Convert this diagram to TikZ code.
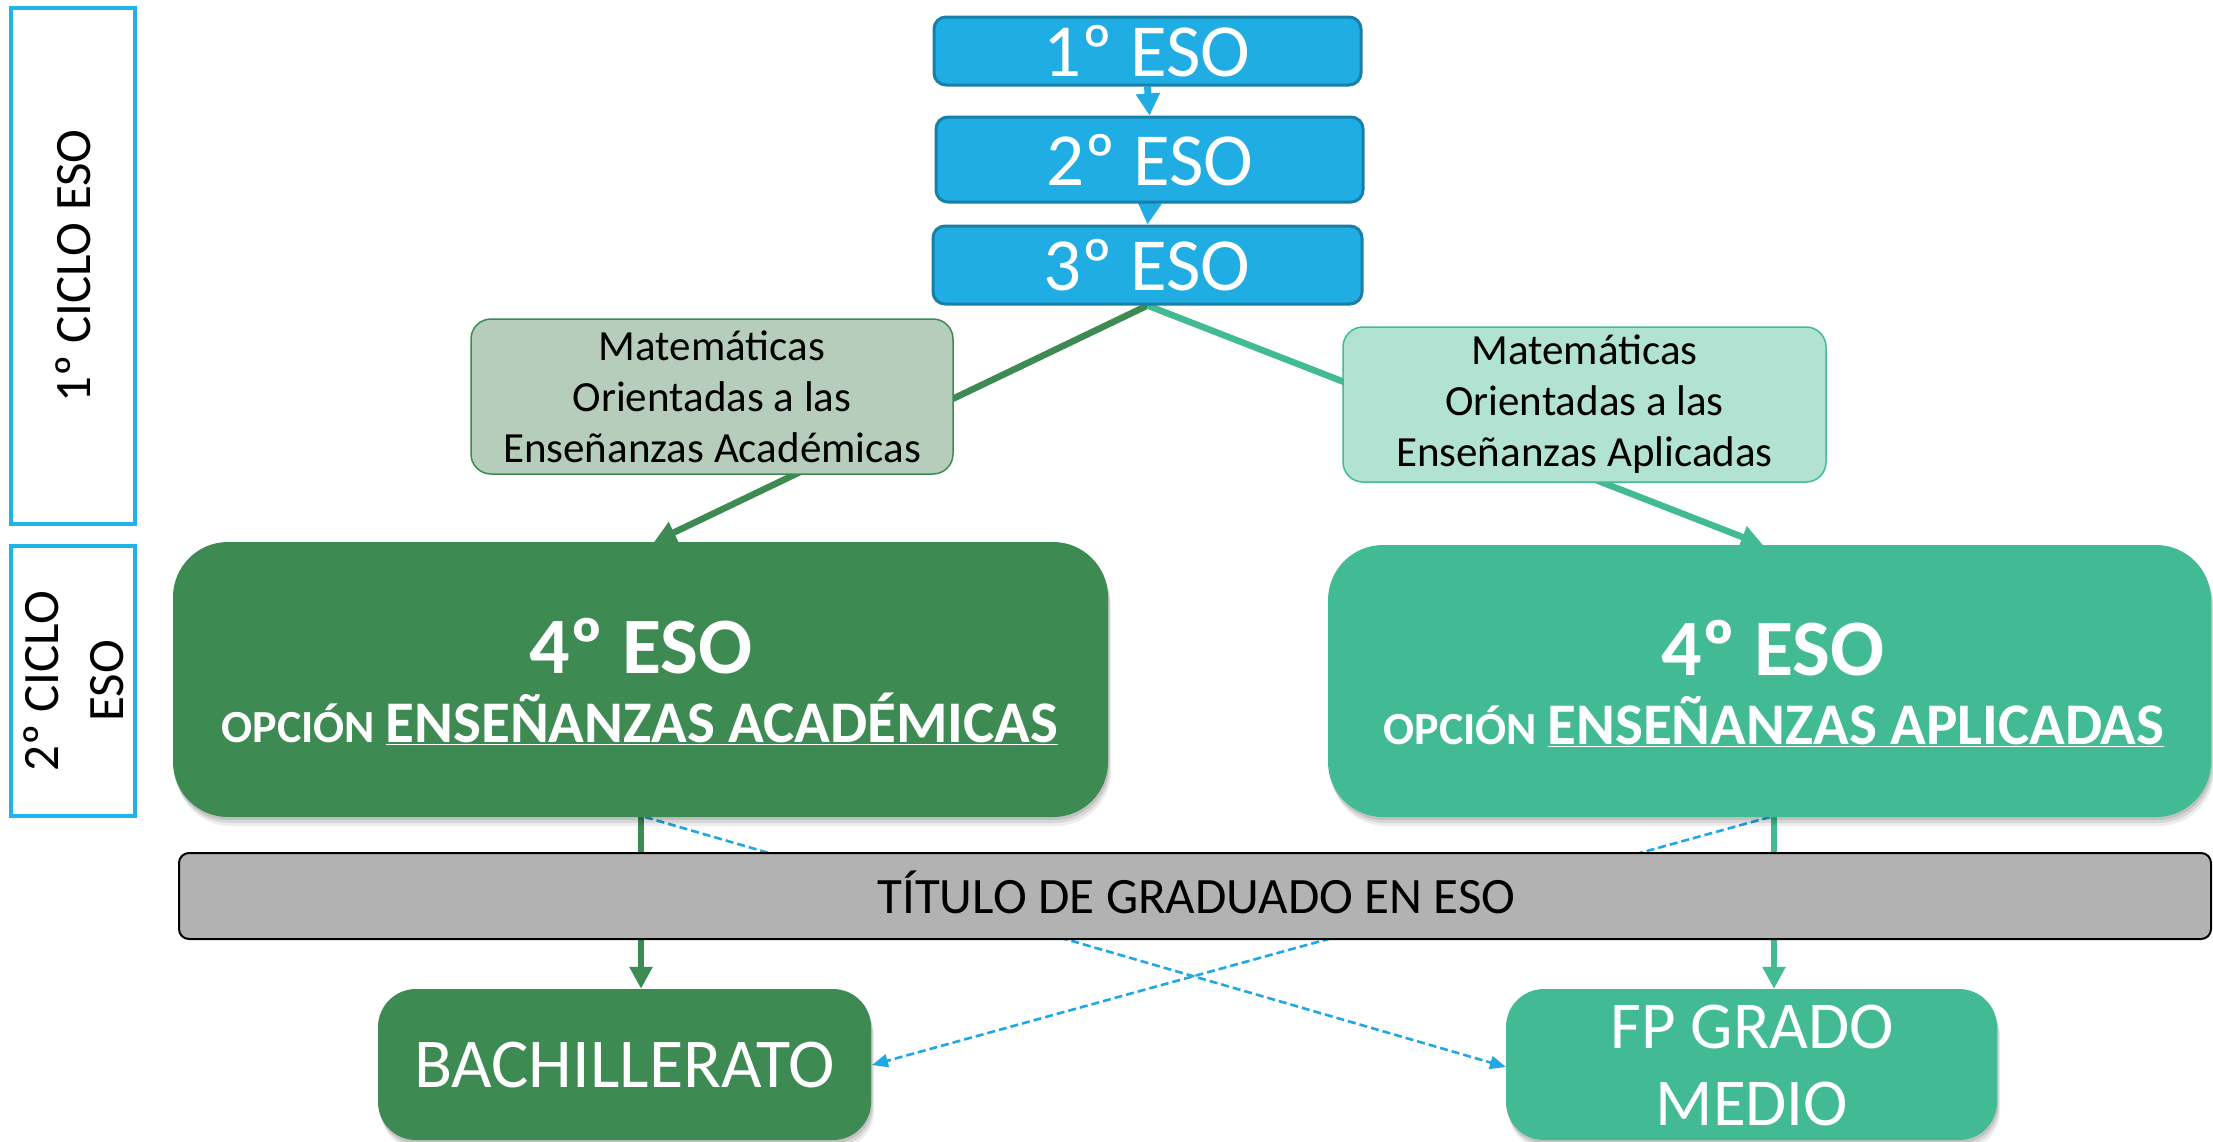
\documentclass[tikz,border=0pt]{standalone}
\usepackage{fontspec}
\setmainfont{Carlito}
\usetikzlibrary{arrows.meta,shadows}
\definecolor{bluefill}{HTML}{1FADE4}
\definecolor{blueborder}{HTML}{187FA7}
\definecolor{cicloborder}{HTML}{1FB3EA}
\definecolor{dgreen}{HTML}{3D8A53}
\definecolor{tgreen}{HTML}{42BB95}
\definecolor{matL}{HTML}{B5CDBA}
\definecolor{matR}{HTML}{B2E2D2}
\definecolor{graybar}{HTML}{B2B2B2}
\definecolor{dashblue}{HTML}{1FA8E3}
\pgfdeclarelayer{bg}
\pgfsetlayers{bg,main}
\begin{document}
\begin{tikzpicture}[x=1pt,y=-1pt,
  ciclobox/.style={draw=cicloborder, line width=4pt, fill=white, inner sep=0pt},
  bluebox/.style={draw=blueborder, line width=3pt, fill=bluefill, rounded corners=12pt, inner sep=0pt},
  matbox/.style={line width=1.5pt, rounded corners=20pt, inner sep=0pt, align=center, text=black,
     font=\fontsize{43}{51}\selectfont},
  softshadow/.style={
     general shadow={fill=black, opacity=0.10, shadow xshift=1pt, shadow yshift=-3pt},
     general shadow={fill=black, opacity=0.09, shadow xshift=2pt, shadow yshift=-6pt},
     general shadow={fill=black, opacity=0.07, shadow xshift=3pt, shadow yshift=-9pt}},
  bigbox/.style={rounded corners=55pt, inner sep=0pt, softshadow},
  endbox/.style={rounded corners=38pt, inner sep=0pt, softshadow},
  txt/.style={inner sep=0pt, anchor=base},
  bluearrow/.style={draw=bluefill, line width=7pt, -{Triangle[length=22pt,width=23pt]}},
  greenarrow/.style={line width=6.5pt, -{Triangle[length=22pt,width=22pt]}},
  dasharrow/.style={draw=dashblue, line width=2.6pt, dash pattern=on 8pt off 4pt,
     -{Triangle[length=16pt,width=13pt]}}
]
\useasboundingbox (0,0) rectangle (2213,1141);
\begin{pgfonlayer}{bg}
\fill[white] (0,0) rectangle (2213,1141);
\end{pgfonlayer}

% ciclo boxes
\node[ciclobox, minimum width=124pt, minimum height=516pt] (c1) at (73,266) {};
\node[ciclobox, minimum width=124pt, minimum height=270pt] (c2) at (73,681) {};
\node[rotate=90, inner sep=0pt, font=\fontsize{51}{65}\selectfont] (c1t) at (73,266) {1º CICLO ESO};
\node[rotate=90, inner sep=0pt, align=center, font=\fontsize{51}{65}\selectfont] (c2t) at (74,681) {2º CICLO\\ESO};

% blue boxes
\node[bluebox, minimum width=427pt, minimum height=68pt] (b1) at (1147.5,51) {};
\node[bluebox, minimum width=427pt, minimum height=85pt] (b2) at (1149.5,159.5) {};
\node[bluebox, minimum width=429pt, minimum height=78pt] (b3) at (1147.5,265) {};

% mat boxes
\node[matbox, draw=dgreen, fill=matL, minimum width=482pt, minimum height=155pt] (mL) at (712,396.5)
  {Matemáticas\\Orientadas a las\\Enseñanzas Académicas};
\node[matbox, draw=tgreen, fill=matR, minimum width=483pt, minimum height=155pt] (mR) at (1584.5,404.5)
  {Matemáticas\\Orientadas a las\\Enseñanzas Aplicadas};

% 4 ESO boxes
\node[bigbox, fill=dgreen, minimum width=935pt, minimum height=275pt] (gL) at (640.5,679.5) {};
\node[bigbox, fill=tgreen, minimum width=883pt, minimum height=272pt] (gR) at (1769.5,681) {};

% gray bar
\node[draw=black, line width=2pt, fill=graybar, rounded corners=10pt, inner sep=0pt,
  minimum width=2032pt, minimum height=86pt] (tit) at (1195,896) {};

% bottom boxes
\node[endbox, fill=dgreen, minimum width=493pt, minimum height=151pt] (bach) at (624.5,1064.5) {};
\node[endbox, fill=tgreen, minimum width=491pt, minimum height=151pt] (fp) at (1751.5,1064.5) {};

% texts
\begin{scope}[every node/.append style={text=white}]
\node[txt, font=\fontsize{75}{80}\selectfont] (t1) at (1147,76) {1º ESO};
\node[txt, font=\fontsize{75}{80}\selectfont] (t2) at (1150,185) {2º ESO};
\node[txt, font=\fontsize{75}{80}\selectfont] (t3) at (1147,290) {3º ESO};
\node[txt, font=\bfseries\fontsize{80}{84}\selectfont] (gLt1) at (641,673) {4º ESO};
\node[txt, font=\bfseries] (gLt2) at (640,742)
  {{\fontsize{46}{50}\selectfont OPCIÓN }{\fontsize{59}{63}\selectfont\underline{ENSEÑANZAS ACADÉMICAS}}};
\node[txt, font=\bfseries\fontsize{80}{84}\selectfont] (gRt1) at (1773,675) {4º ESO};
\node[txt, font=\bfseries] (gRt2) at (1774,744)
  {{\fontsize{46}{50}\selectfont OPCIÓN }{\fontsize{59}{63}\selectfont\underline{ENSEÑANZAS APLICADAS}}};
\node[txt, font=\fontsize{70}{74}\selectfont] (bacht) at (624.5,1087) {BACHILLERATO};
\node[txt, font=\fontsize{67}{72}\selectfont] (fpt1) at (1752,1048) {FP GRADO};
\node[txt, font=\fontsize{67}{72}\selectfont] (fpt2) at (1752,1125) {MEDIO};
\end{scope}
\node[txt, font=\fontsize{51}{55}\selectfont, text=black] (titt) at (1196.5,913) {TÍTULO DE GRADUADO EN ESO};

% anchor points on box edges
\coordinate (gLin) at (654,542);
\coordinate (gRin) at (1763,545);
\coordinate (gLout) at (641,817);
\coordinate (gRout) at (1774,817);
\coordinate (gLdash) at (645,817);
\coordinate (gRdash) at (1770,817);
\coordinate (fpin) at (1506,1067);
\coordinate (bachin) at (872,1065);

% connectors
\begin{pgfonlayer}{bg}
\draw[bluearrow] (b1.south) -- (b2.north);
\draw[bluearrow] (b2.south) -- (b3.north);
\draw[greenarrow, draw=dgreen, fill=dgreen] (b3.south) -- (gLin);
\draw[greenarrow, draw=tgreen, fill=tgreen] (b3.south) -- (gRin);
\draw[greenarrow, draw=dgreen, fill=dgreen] (gLout) -- (gLout |- bach.north);
\draw[greenarrow, draw=tgreen, fill=tgreen] (gRout) -- (gRout |- fp.north);
\draw[dasharrow] (gLdash) -- (fpin);
\draw[dasharrow] (gRdash) -- (bachin);
\end{pgfonlayer}
\end{tikzpicture}
\end{document}
